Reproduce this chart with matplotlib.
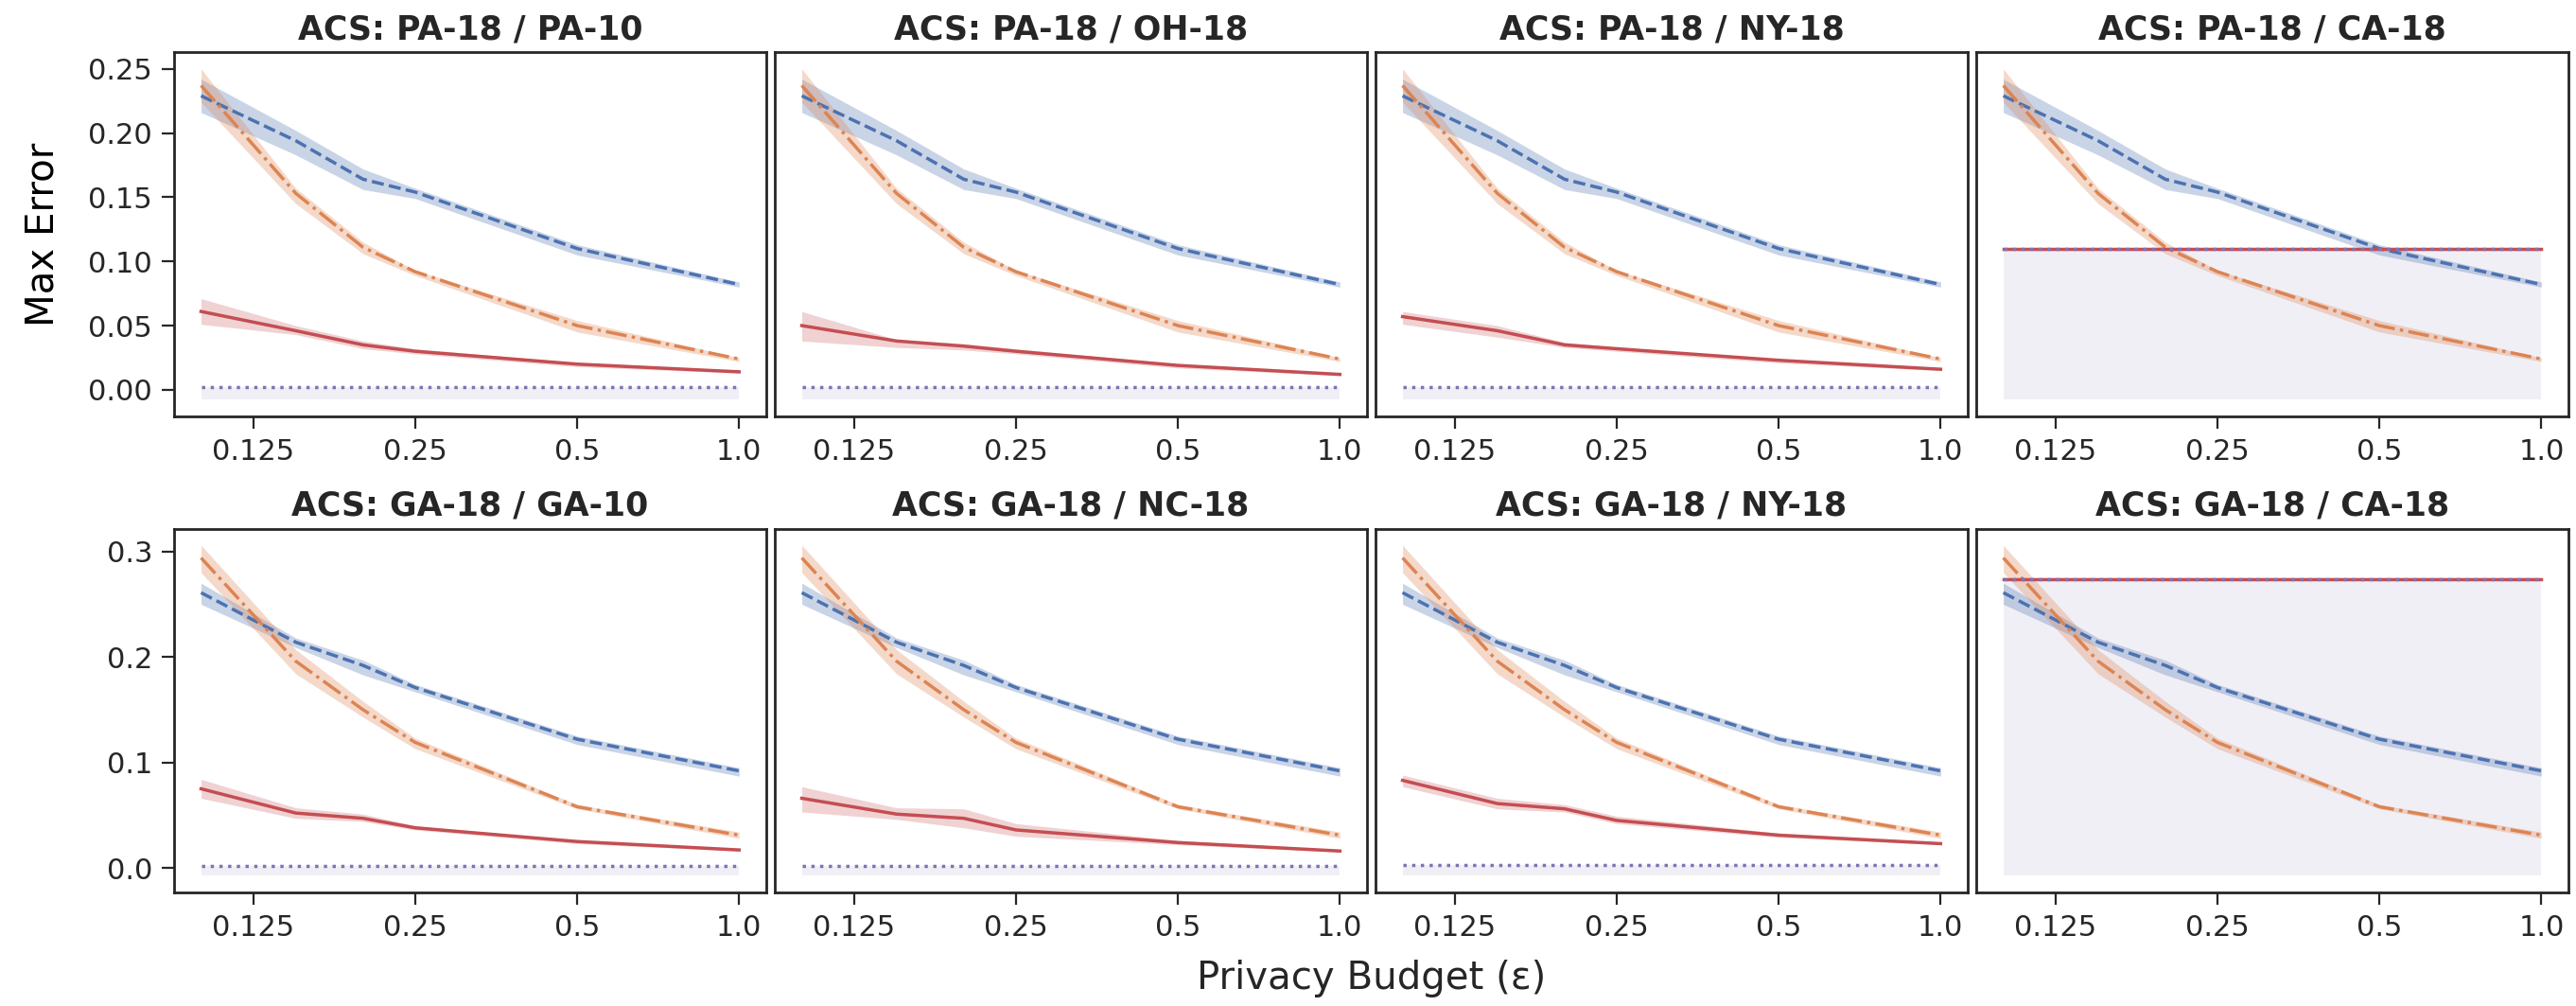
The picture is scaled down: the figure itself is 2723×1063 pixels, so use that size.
import numpy as np
import matplotlib
matplotlib.use("Agg")
import matplotlib.pyplot as plt
from matplotlib.ticker import FixedLocator, FixedFormatter, NullLocator

# privacy budgets
eps = [0.1, 0.15, 0.2, 0.25, 0.5, 1.0]
tick_vals = [0.125, 0.25, 0.5, 1.0]
tick_labels = ["0.125", "0.25", "0.5", "1.0"]

titles_top = ["ACS: PA-18 / PA-10", "ACS: PA-18 / OH-18", "ACS: PA-18 / NY-18", "ACS: PA-18 / CA-18"]
titles_bot = ["ACS: GA-18 / GA-10", "ACS: GA-18 / NC-18", "ACS: GA-18 / NY-18", "ACS: GA-18 / CA-18"]

# row 1 (PA-18 source): blue / orange are the same in every panel
blue_top = [0.229, 0.194, 0.164, 0.154, 0.110, 0.082]
blue_top_lo = [0.216, 0.183, 0.156, 0.149, 0.105, 0.080]
blue_top_hi = [0.242, 0.202, 0.172, 0.157, 0.113, 0.084]
orange_top = [0.237, 0.153, 0.111, 0.092, 0.050, 0.024]
orange_top_lo = [0.224, 0.145, 0.106, 0.089, 0.045, 0.022]
orange_top_hi = [0.250, 0.157, 0.115, 0.093, 0.054, 0.025]

# row 2 (GA-18 source)
blue_bot = [0.261, 0.214, 0.192, 0.171, 0.122, 0.092]
blue_bot_lo = [0.250, 0.209, 0.183, 0.167, 0.117, 0.087]
blue_bot_hi = [0.270, 0.218, 0.197, 0.174, 0.125, 0.095]
orange_bot = [0.294, 0.196, 0.150, 0.119, 0.058, 0.031]
orange_bot_lo = [0.280, 0.184, 0.143, 0.113, 0.056, 0.028]
orange_bot_hi = [0.306, 0.207, 0.158, 0.123, 0.060, 0.034]

# red (solid) series per panel, with band
red_top = [
    [0.061, 0.046, 0.035, 0.030, 0.020, 0.014],
    [0.050, 0.038, 0.034, 0.030, 0.019, 0.012],
    [0.057, 0.046, 0.035, 0.032, 0.023, 0.016],
    [0.110, 0.110, 0.110, 0.110, 0.110, 0.110],
]
red_top_lo = [
    [0.051, 0.043, 0.032, 0.028, 0.018, 0.013],
    [0.038, 0.033, 0.031, 0.028, 0.017, 0.011],
    [0.051, 0.041, 0.033, 0.030, 0.021, 0.015],
    [0.110, 0.110, 0.110, 0.110, 0.110, 0.110],
]
red_top_hi = [
    [0.071, 0.050, 0.038, 0.032, 0.021, 0.015],
    [0.061, 0.039, 0.036, 0.032, 0.020, 0.013],
    [0.061, 0.050, 0.037, 0.033, 0.024, 0.017],
    [0.110, 0.110, 0.110, 0.110, 0.110, 0.110],
]
red_bot = [
    [0.075, 0.052, 0.047, 0.038, 0.025, 0.017],
    [0.066, 0.051, 0.047, 0.036, 0.024, 0.016],
    [0.083, 0.061, 0.056, 0.045, 0.031, 0.023],
    [0.274, 0.274, 0.274, 0.274, 0.274, 0.274],
]
red_bot_lo = [
    [0.066, 0.047, 0.044, 0.036, 0.023, 0.016],
    [0.053, 0.046, 0.038, 0.030, 0.022, 0.015],
    [0.077, 0.056, 0.053, 0.042, 0.029, 0.022],
    [0.274, 0.274, 0.274, 0.274, 0.274, 0.274],
]
red_bot_hi = [
    [0.084, 0.057, 0.051, 0.040, 0.026, 0.018],
    [0.077, 0.057, 0.056, 0.042, 0.026, 0.017],
    [0.088, 0.066, 0.060, 0.049, 0.033, 0.024],
    [0.274, 0.274, 0.274, 0.274, 0.274, 0.274],
]

# purple (dotted) baseline per panel, shaded down to a floor
purple_top = [0.002, 0.002, 0.002, 0.110]
purple_bot = [0.002, 0.002, 0.003, 0.274]
fill_floor = -0.0075

BLUE, ORANGE, RED, PURPLE = "#4C72B0", "#DD8452", "#C44E52", "#8172B3"
DARK = "#262626"

plt.rcParams["font.family"] = "DejaVu Sans"
plt.rcParams["axes.edgecolor"] = DARK
plt.rcParams["axes.linewidth"] = 1.0
plt.rcParams["xtick.color"] = DARK
plt.rcParams["ytick.color"] = DARK
plt.rcParams["xtick.labelsize"] = 11
plt.rcParams["ytick.labelsize"] = 11
plt.rcParams["xtick.major.size"] = 4.8
plt.rcParams["ytick.major.size"] = 4.8
plt.rcParams["text.color"] = DARK

fig, axes = plt.subplots(2, 4, figsize=(13.615, 5.315), dpi=200, sharey="row")
fig.subplots_adjust(left=0.0676, right=0.997, top=0.948, bottom=0.113,
                    wspace=0.015, hspace=0.31)

rows = [
    (titles_top, blue_top, blue_top_lo, blue_top_hi, orange_top, orange_top_lo, orange_top_hi,
     red_top, red_top_lo, red_top_hi, purple_top),
    (titles_bot, blue_bot, blue_bot_lo, blue_bot_hi, orange_bot, orange_bot_lo, orange_bot_hi,
     red_bot, red_bot_lo, red_bot_hi, purple_bot),
]

for r, (titles, b, blo, bhi, o, olo, ohi, rd, rlo, rhi, pu) in enumerate(rows):
    for c in range(4):
        ax = axes[r, c]
        p = [pu[c]] * len(eps)
        ax.fill_between(eps, fill_floor, p, color=PURPLE, alpha=0.11, lw=0)
        ax.fill_between(eps, blo, bhi, color=BLUE, alpha=0.3, lw=0)
        ax.plot(eps, b, color=BLUE, ls="--", lw=1.25)
        ax.fill_between(eps, olo, ohi, color=ORANGE, alpha=0.3, lw=0)
        ax.plot(eps, o, color=ORANGE, ls="-.", lw=1.25)
        ax.fill_between(eps, rlo[c], rhi[c], color=RED, alpha=0.25, lw=0)
        ax.plot(eps, rd[c], color=RED, ls="-", lw=1.25)
        ax.plot(eps, p, color=PURPLE, ls=":", lw=1.25)

        ax.set_xscale("log", base=2)
        ax.xaxis.set_major_locator(FixedLocator(tick_vals))
        ax.xaxis.set_major_formatter(FixedFormatter(tick_labels))
        ax.xaxis.set_minor_locator(NullLocator())
        ax.set_title(titles[c], fontsize=12.5, fontweight="bold", pad=5)
        if c > 0:
            ax.tick_params(axis="y", left=False, labelleft=False)

axes[0, 0].set_yticks([0.0, 0.05, 0.10, 0.15, 0.20, 0.25])
axes[0, 0].set_yticklabels(["0.00", "0.05", "0.10", "0.15", "0.20", "0.25"])
axes[1, 0].set_yticks([0.0, 0.1, 0.2, 0.3])
axes[0, 0].set_ylabel("Max Error", fontsize=14.5, labelpad=10)

fig.text((0.0676 + 0.997) / 2, 0.008, "Privacy Budget (ε)", fontsize=14.5, ha="center", va="bottom")

fig.savefig("out.png", dpi=200)
